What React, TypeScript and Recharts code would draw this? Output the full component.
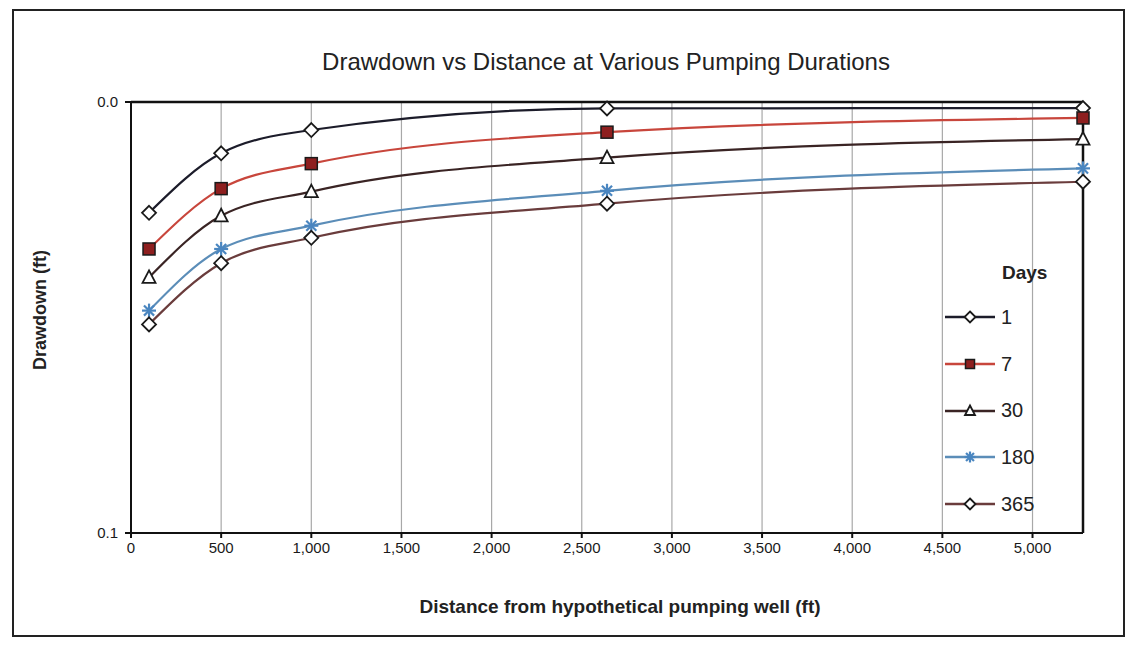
import { LineChart, Line, XAxis, YAxis, CartesianGrid, ReferenceLine } from 'recharts'

const distances = [100, 500, 1000, 2640, 5280]
const day1 = [0.0257, 0.0119, 0.0065, 0.0015, 0.0014]
const day7 = [0.0341, 0.0201, 0.0143, 0.007, 0.0037]
const day30 = [0.0407, 0.0264, 0.0208, 0.0129, 0.0086]
const day180 = [0.0484, 0.0341, 0.0287, 0.0206, 0.0154]
const day365 = [0.0516, 0.0374, 0.0315, 0.0236, 0.0185]
const xTicks = [0, 500, 1000, 1500, 2000, 2500, 3000, 3500, 4000, 4500, 5000]
const yTicks = [0, 0.1]

const series = [
  { key: 'd1', name: '1', values: day1, color: '#1c1c2a', shape: 'diamond', fill: '#fff' },
  { key: 'd7', name: '7', values: day7, color: '#c8463c', shape: 'square', fill: '#8e1f1f' },
  { key: 'd30', name: '30', values: day30, color: '#3a2424', shape: 'triangle', fill: '#fff' },
  { key: 'd180', name: '180', values: day180, color: '#5b8db8', shape: 'star', fill: '#4a86c0' },
  { key: 'd365', name: '365', values: day365, color: '#6a3c3c', shape: 'diamond', fill: '#fff' },
]

const data = distances.map((d, i) => {
  const row: Record<string, number> = { x: d }
  series.forEach((s) => {
    row[s.key] = s.values[i]
  })
  return row
})

const FONT = '"Liberation Sans", Arial, sans-serif'

function Marker({ cx, cy, shape, fill, r = 7 }: { cx: number; cy: number; shape: string; fill: string; r?: number }) {
  if (cx == null || cy == null) return null
  const st = '#1a1a1a'
  if (shape === 'square') {
    const h = r - 1
    return <rect x={cx - h} y={cy - h} width={h * 2} height={h * 2} fill={fill} stroke={st} strokeWidth={1.5} />
  }
  if (shape === 'triangle') {
    return (
      <polygon
        points={`${cx},${cy - r} ${cx + r - 0.5},${cy + r - 1.5} ${cx - r + 0.5},${cy + r - 1.5}`}
        fill={fill}
        stroke={st}
        strokeWidth={1.8}
      />
    )
  }
  if (shape === 'star') {
    const d = r * 0.72
    return (
      <g stroke={fill} strokeWidth={2.2}>
        <line x1={cx - r} y1={cy} x2={cx + r} y2={cy} />
        <line x1={cx} y1={cy - r} x2={cx} y2={cy + r} />
        <line x1={cx - d} y1={cy - d} x2={cx + d} y2={cy + d} />
        <line x1={cx - d} y1={cy + d} x2={cx + d} y2={cy - d} />
      </g>
    )
  }
  return (
    <polygon
      points={`${cx},${cy - r} ${cx + r},${cy} ${cx},${cy + r} ${cx - r},${cy}`}
      fill={fill}
      stroke={st}
      strokeWidth={1.8}
    />
  )
}

function DaysLegend() {
  return (
    <div style={{ position: 'absolute', left: 929, top: 248, fontFamily: FONT, color: '#222' }}>
      <div style={{ fontWeight: 'bold', fontSize: 19, marginLeft: 59, height: 35, lineHeight: '28px' }}>Days</div>
      {series.map((s) => (
        <div key={s.key} style={{ display: 'flex', alignItems: 'center', height: 46.7 }}>
          <svg width={54} height={18}>
            <line x1={2} y1={9} x2={52} y2={9} stroke={s.color} strokeWidth={2.5} />
            <Marker cx={27} cy={9} shape={s.shape} fill={s.fill} r={5.5} />
          </svg>
          <span style={{ marginLeft: 4, fontSize: 20 }}>{s.name}</span>
        </div>
      ))}
    </div>
  )
}

export default function App() {
  return (
    <div
      style={{
        position: 'relative',
        width: 1109,
        height: 624,
        border: '2px solid #222',
        marginTop: 1,
        marginLeft: 4,
        background: '#fff',
        fontFamily: FONT,
      }}
    >
      <div
        style={{
          position: 'absolute',
          top: 37,
          left: 0,
          width: 1184,
          textAlign: 'center',
          fontSize: 24,
          color: '#222',
        }}
      >
        Drawdown vs Distance at Various Pumping Durations
      </div>
      <div
        style={{
          position: 'absolute',
          left: 26,
          top: 299,
          transform: 'translate(-50%, -50%) rotate(-90deg)',
          fontSize: 18,
          color: '#222',
          whiteSpace: 'nowrap',
          fontWeight: 'bold',
        }}
      >
        Drawdown (ft)
      </div>
      <div
        style={{
          position: 'absolute',
          top: 585,
          left: 0,
          width: 1212,
          textAlign: 'center',
          fontSize: 19,
          color: '#222',
          fontWeight: 'bold',
        }}
      >
        Distance from hypothetical pumping well (ft)
      </div>
      <LineChart
        width={1109}
        height={624}
        data={data}
        margin={{ top: 91, right: 40, bottom: 72, left: 55 }}
        style={{ position: 'absolute', top: 0, left: 0 }}
      >
        <CartesianGrid horizontal={false} stroke="#a8a8a8" strokeWidth={1.2} xAxisId="b" yAxisId="l" />
        <XAxis
          dataKey="x"
          type="number"
          xAxisId="b"
          domain={[0, 5280]}
          ticks={xTicks}
          tickFormatter={(v: number) => v.toLocaleString('en-US')}
          stroke="#111"
          strokeWidth={2}
          tick={{ fill: '#1a1a1a', fontSize: 15 }}
          tickSize={5}
          tickMargin={4}
          height={30}
        />
        <YAxis
          yAxisId="l"
          reversed
          domain={[0, 0.1]}
          ticks={yTicks}
          tickFormatter={(v: number) => v.toFixed(1)}
          stroke="#111"
          strokeWidth={2}
          tick={{ fill: '#1a1a1a', fontSize: 15 }}
          tickSize={6}
          tickMargin={7}
          width={62}
        />
        <ReferenceLine xAxisId="b" yAxisId="l" y={0} stroke="#111" strokeWidth={2.5} />
        <ReferenceLine xAxisId="b" yAxisId="l" x={5280} stroke="#111" strokeWidth={2.5} />
        {series.map((s) => (
          <Line
            key={s.key}
            xAxisId="b"
            yAxisId="l"
            type="monotone"
            dataKey={s.key}
            name={s.name}
            stroke={s.color}
            strokeWidth={2.2}
            dot={(p: { cx: number; cy: number; index: number }) => (
              <Marker key={p.index} cx={p.cx} cy={p.cy} shape={s.shape} fill={s.fill} />
            )}
            activeDot={false}
            isAnimationActive={false}
          />
        ))}
      </LineChart>
      <DaysLegend />
    </div>
  )
}
